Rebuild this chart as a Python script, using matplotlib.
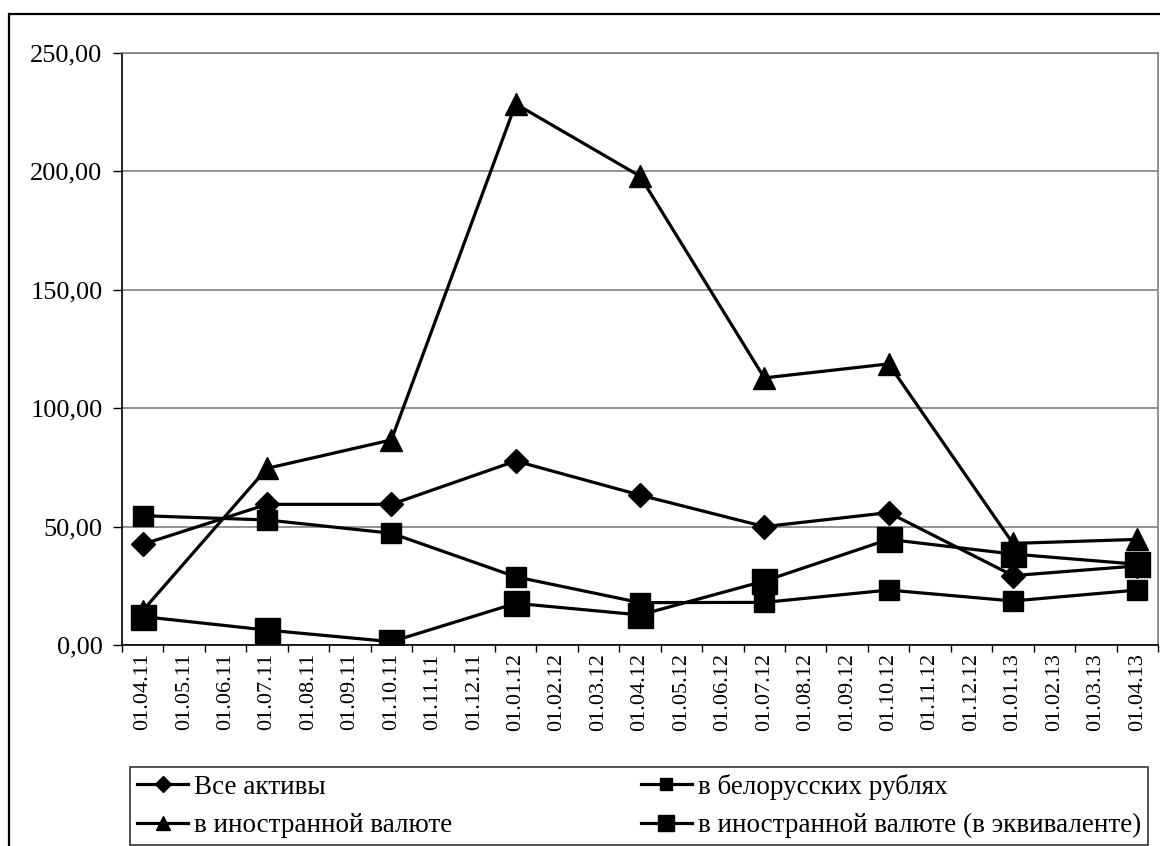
import matplotlib
matplotlib.use('Agg')
import matplotlib.pyplot as plt
from matplotlib.patches import Rectangle
from matplotlib.ticker import FixedLocator, FuncFormatter

plt.rcParams['font.family'] = 'serif'
plt.rcParams['font.serif'] = ['Liberation Serif', 'DejaVu Serif']

months = ['01.04.11', '01.05.11', '01.06.11', '01.07.11', '01.08.11', '01.09.11',
          '01.10.11', '01.11.11', '01.12.11', '01.01.12', '01.02.12', '01.03.12',
          '01.04.12', '01.05.12', '01.06.12', '01.07.12', '01.08.12', '01.09.12',
          '01.10.12', '01.11.12', '01.12.12', '01.01.13', '01.02.13', '01.03.13',
          '01.04.13']
quarters = ['01.04.11', '01.07.11', '01.10.11', '01.01.12', '01.04.12',
            '01.07.12', '01.10.12', '01.01.13', '01.04.13']

all_assets = [42.5, 59.4, 59.4, 77.7, 63.3, 50.0, 55.9, 29.3, 33.4]
byr = [54.6, 52.8, 47.2, 28.8, 17.9, 18.0, 23.2, 18.6, 23.2]
foreign = [14.5, 74.6, 86.6, 228.5, 198.0, 112.8, 118.7, 42.9, 44.6]
foreign_eq = [12.0, 6.3, 1.4, 17.6, 12.7, 27.0, 44.6, 38.4, 34.1]

labels = ['Все активы', 'в белорусских рублях', 'в иностранной валюте',
          'в иностранной валюте (в эквиваленте)']

xq = [months.index(q) for q in quarters]

fig = plt.figure(figsize=(11.6, 8.46), dpi=100)
ax = fig.add_axes([122 / 1160, 1 - 645 / 846, 1036 / 1160, 592 / 846])

lw = 2.3
l1, = ax.plot(xq, all_assets, '-D', color='black', lw=lw, ms=12.5, zorder=5)
l2, = ax.plot(xq, byr, '-s', color='black', lw=lw, ms=14, zorder=5)
l3, = ax.plot(xq, foreign, '-^', color='black', lw=lw, ms=16, zorder=5)
l4, = ax.plot(xq, foreign_eq, '-s', color='black', lw=lw, ms=18, zorder=5)

ax.set_xlim(-0.5, len(months) - 0.5)
ax.set_ylim(0, 250)
ax.set_yticks([0, 50, 100, 150, 200, 250])
ax.yaxis.set_major_formatter(FuncFormatter(lambda v, p: f'{v:.2f}'.replace('.', ',')))
ax.yaxis.grid(True, color='#808080', lw=1.2)
ax.set_axisbelow(True)

ax.set_xticks(range(len(months)))
ax.set_xticklabels(months, rotation=90, fontsize=16)
ax.xaxis.set_minor_locator(FixedLocator([i - 0.5 for i in range(len(months) + 1)]))
ax.tick_params(axis='x', which='major', length=0, pad=6)
ax.tick_params(axis='x', which='minor', length=5, width=1, color='black')
ax.tick_params(axis='y', length=6.5, width=1, labelsize=19, pad=7.5)

for s in ['left', 'bottom']:
    ax.spines[s].set_color('black')
    ax.spines[s].set_linewidth(1.2)
for s in ['top', 'right']:
    ax.spines[s].set_color('#808080')
    ax.spines[s].set_linewidth(1.2)

# outer chart frame
fig.patches.append(Rectangle((9 / 1160, -0.1), 1.2, 1.1 - 14 / 846,
                             transform=fig.transFigure, fill=False,
                             edgecolor='black', lw=1.6))

leg = fig.legend([l1, l3, l2, l4], [labels[0], labels[2], labels[1], labels[3]],
                 ncol=2, loc='lower left',
                 bbox_to_anchor=(130 / 1160, 1 / 846, 1018 / 1160, 81 / 846),
                 mode='expand', fontsize=19.5, frameon=True, fancybox=False,
                 edgecolor='black', markerscale=0.65, handlelength=1.9,
                 handletextpad=0.22, borderpad=0.25, labelspacing=0.5,
                 borderaxespad=0)
leg.get_frame().set_linewidth(1.2)

fig.savefig('out.png', dpi=100)
